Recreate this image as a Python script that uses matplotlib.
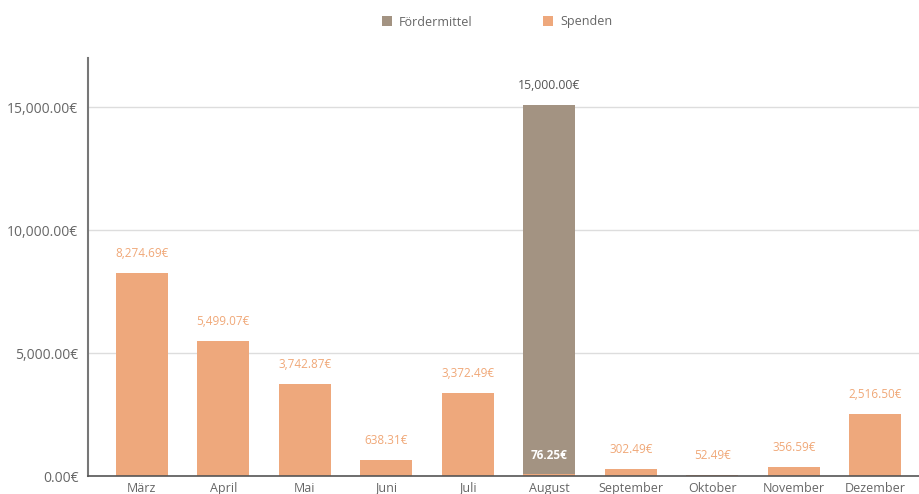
import matplotlib
matplotlib.use("Agg")
import matplotlib.pyplot as plt
import numpy as np

months = ["März", "April", "Mai", "Juni", "Juli", "August", "September", "Oktober", "November", "Dezember"]
spenden = [8274.69, 5499.07, 3742.87, 638.31, 3372.49, 76.25, 302.49, 52.49, 356.59, 2516.50]
foerder = [0, 0, 0, 0, 0, 15000.00, 0, 0, 0, 0]
yticks = [0, 5000, 10000, 15000]

c_f = "#A39382"
c_s = "#EEA87C"

plt.rcParams['font.family'] = ['Open Sans', 'DejaVu Sans']
fig = plt.figure(figsize=(9.2, 4.94), dpi=100)
W, H = 920, 494
ax = fig.add_axes([88 / W, (H - 476) / H, (920 - 88) / W, (476 - 58) / H])

x = np.arange(len(months))
bw = 0.64
ax.bar(x, spenden, bw, color=c_s, zorder=2, label="Spenden")
fb = [f if f > 0 else np.nan for f in foerder]
ax.bar(x, fb, bw, bottom=spenden, color=c_f, zorder=2, label="Fördermittel")

ax.set_xlim(-0.66, 9.55)
ax.set_ylim(0, 17000)
ax.set_yticks(yticks)
ax.set_yticklabels([f"{v:,.2f}€" for v in yticks])
ax.set_xticks(x)
ax.set_xticklabels(months)
ax.tick_params(axis='both', length=0, colors="#666666")
ax.tick_params(axis='y', pad=7, labelsize=10)
ax.tick_params(axis='x', pad=4, labelsize=9)
ax.grid(axis='y', color="#dddddd", linewidth=1, zorder=0)
for s in ["top", "right"]:
    ax.spines[s].set_visible(False)
ax.spines["left"].set_color("#777777")
ax.spines["left"].set_linewidth(1.5)
ax.spines["bottom"].set_color("#555555")
ax.spines["bottom"].set_linewidth(1.2)

for i in range(len(months)):
    if foerder[i] > 0:
        top = spenden[i] + foerder[i]
        ax.annotate(f"{foerder[i]:,.2f}€", (x[i], top), xytext=(0, 14), textcoords="offset points",
                    ha="center", va="center", color="#555555", fontsize=8.8)
        ax.annotate(f"{spenden[i]:,.2f}€", (x[i], 0), xytext=(0, 15), textcoords="offset points",
                    ha="center", va="center", color="white", fontsize=8.5, fontweight="bold")
    else:
        ax.annotate(f"{spenden[i]:,.2f}€", (x[i], spenden[i]), xytext=(0, 14), textcoords="offset points",
                    ha="center", va="center", color="#F0A878", fontsize=8.5)

h, l = ax.get_legend_handles_labels()
leg = fig.legend(h[::-1], l[::-1], loc="center", bbox_to_anchor=(497 / W, 1 - 22 / H), ncol=2, frameon=False,
                 fontsize=9, handlelength=0.8, handleheight=0.8, columnspacing=5.6, handletextpad=0.6,
                 labelcolor="#666666")

fig.savefig("out.png", dpi=100)
